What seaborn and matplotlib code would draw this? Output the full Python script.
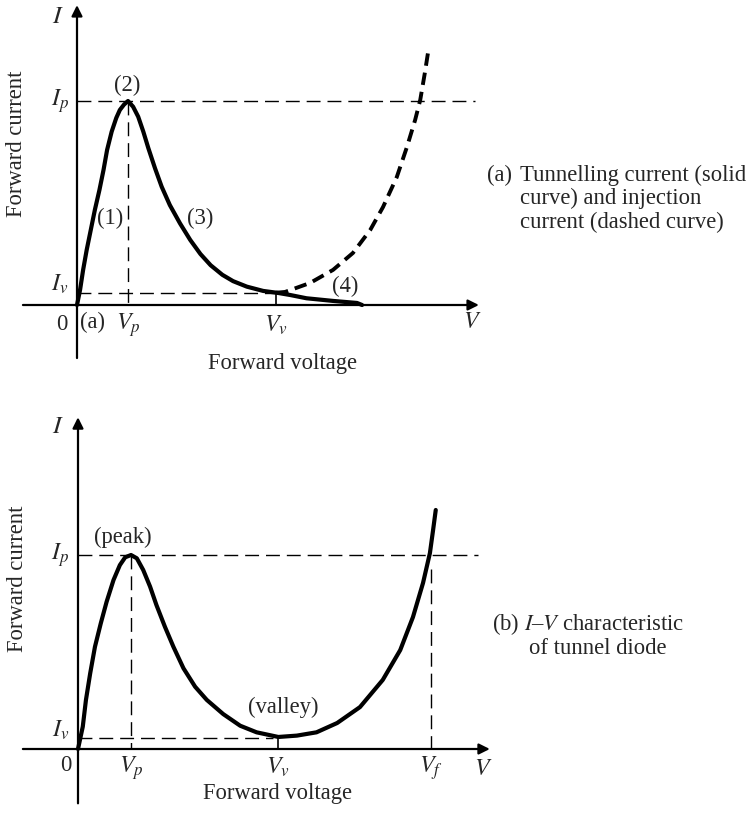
import numpy as np
import pandas as pd
import matplotlib
matplotlib.use('Agg')
import matplotlib.pyplot as plt
import seaborn as sns

# (a) 터널 전류 (실선) : V [V], I [mA]
tun_v = [0.000, 0.006, 0.012, 0.019, 0.027, 0.035, 0.044, 0.052, 0.059, 0.068, 0.077, 0.084,
         0.092, 0.100, 0.110, 0.120, 0.130, 0.140, 0.153, 0.166, 0.182, 0.202, 0.222, 0.242,
         0.262, 0.285, 0.306, 0.333, 0.365, 0.392, 0.418, 0.450, 0.502, 0.549, 0.559]
tun_i = [0.00, 0.74, 1.72, 2.70, 3.68, 4.66, 5.64, 6.62, 7.60, 8.50, 9.17, 9.56,
         9.82, 10.0, 9.72, 9.23, 8.50, 7.68, 6.70, 5.80, 4.90, 4.00, 3.19, 2.50,
         1.95, 1.48, 1.17, 0.90, 0.69, 0.60, 0.49, 0.33, 0.20, 0.10, 0.00]
# (a) 주입 전류 (점선)
inj_v = [0.390, 0.408, 0.457, 0.502, 0.541, 0.575, 0.600, 0.627, 0.647, 0.663, 0.673, 0.682, 0.690]
inj_i = [0.60, 0.64, 1.08, 1.72, 2.55, 3.68, 4.80, 6.27, 7.75, 9.07, 10.05, 11.37, 12.65]
a_vp, a_vv, a_ip, a_iv = 0.100, 0.390, 10.0, 0.60

# (b) 터널 다이오드 I-V 특성
iv_v = [0.000, 0.009, 0.015, 0.023, 0.032, 0.043, 0.054, 0.067, 0.079, 0.089, 0.100,
        0.111, 0.123, 0.136, 0.148, 0.164, 0.180, 0.199, 0.221, 0.243, 0.274, 0.306,
        0.337, 0.378, 0.413, 0.450, 0.489, 0.532, 0.575, 0.608, 0.632, 0.651, 0.664,
        0.670, 0.675]
iv_i = [0.00, 1.15, 2.53, 3.90, 5.27, 6.48, 7.59, 8.71, 9.48, 9.88, 10.0,
        9.83, 9.23, 8.37, 7.42, 6.30, 5.27, 4.16, 3.21, 2.53, 1.80, 1.20,
        0.86, 0.62, 0.69, 0.86, 1.34, 2.16, 3.56, 5.10, 6.80, 8.56, 10.10,
        11.29, 12.32]
b_vp, b_vv, b_vf, b_ip, b_iv = 0.100, 0.378, 0.666, 10.0, 0.56

sns.set_style('white')
plt.rcParams['font.family'] = ['Liberation Serif', 'DejaVu Serif']
plt.rcParams['mathtext.fontset'] = 'stix'

fig = plt.figure(figsize=(7.56, 8.22), dpi=100)
ax1 = fig.add_axes([0, 412 / 822, 1, 410 / 822])
ax2 = fig.add_axes([0, 0, 1, 412 / 822])
ax1.set_xlim(-77 / 510, 679 / 510)
ax1.set_ylim(-105 / 20.4, 305 / 20.4)
ax2.set_xlim(-78 / 530, 678 / 530)
ax2.set_ylim(-73 / 19.4, 339 / 19.4)
for ax in (ax1, ax2):
    ax.axis('off')

FS = 16.3
guide = dict(color='k', lw=1.0, linestyle=(0, (10, 5)))
arrow = dict(arrowstyle='-|>', color='k', lw=1.6, mutation_scale=16, shrinkA=0, shrinkB=0)


def draw_axes(ax, x_left, x_tip, y_bottom, y_tip):
    ax.annotate('', xy=(x_tip, 0), xytext=(x_left, 0), arrowprops=arrow)
    ax.annotate('', xy=(0, y_tip), xytext=(0, y_bottom), arrowprops=arrow)


# ---- (a) ----
draw_axes(ax1, -0.106, 0.788, -2.6, 14.7)
df_tun = pd.DataFrame({'V': tun_v, 'I': tun_i})
df_inj = pd.DataFrame({'V': inj_v, 'I': inj_i})
sns.lineplot(data=df_tun, x='V', y='I', ax=ax1, color='k', lw=3.0, estimator=None, sort=False,
             solid_capstyle='round', solid_joinstyle='round')
sns.lineplot(data=df_inj, x='V', y='I', ax=ax1, color='k', lw=2.8, estimator=None, sort=False,
             linestyle=(0, (3.2, 1.8)))
ax1.plot([0, 0.780], [a_ip, a_ip], **guide)
ax1.plot([0, a_vv], [a_iv, a_iv], **guide)
ax1.plot([a_vp, a_vp], [a_ip, 0], **guide)
ax1.plot([a_vv, a_vv], [a_iv, 0], color='k', lw=1.2)

ax1.text(-0.037, 14.1, '$I$', fontsize=FS + 2, ha='center', va='center')
ax1.text(-0.016, a_ip, '$I_p$', fontsize=FS + 1, ha='right', va='center')
ax1.text(-0.016, 1.0, '$I_v$', fontsize=FS + 1, ha='right', va='center')
ax1.text(-0.029, -0.95, '0', fontsize=FS, ha='center', va='center')
ax1.text(0.031, -0.85, '(a)', fontsize=FS, ha='center', va='center')
ax1.text(a_vp, -1.0, '$V_p$', fontsize=FS + 1, ha='center', va='center')
ax1.text(a_vv, -1.0, '$V_v$', fontsize=FS + 1, ha='center', va='center')
ax1.text(0.775, -0.85, '$V$', fontsize=FS + 1, ha='center', va='center')
ax1.text(0.065, 4.26, '(1)', fontsize=FS, ha='center', va='center')
ax1.text(0.098, 10.75, '(2)', fontsize=FS, ha='center', va='center')
ax1.text(0.241, 4.26, '(3)', fontsize=FS, ha='center', va='center')
ax1.text(0.525, 0.9, '(4)', fontsize=FS, ha='center', va='center')
ax1.text(-0.118, 7.9, 'Forward current', fontsize=FS, rotation=90, ha='center', va='center')
ax1.text(0.402, -2.85, 'Forward voltage', fontsize=FS, ha='center', va='center')
ax1.text(0.804, 6.37, '(a)', fontsize=FS, ha='left', va='center')
ax1.text(0.869, 6.37, 'Tunnelling current (solid', fontsize=FS, ha='left', va='center')
ax1.text(0.869, 5.22, 'curve) and injection', fontsize=FS, ha='left', va='center')
ax1.text(0.869, 4.07, 'current (dashed curve)', fontsize=FS, ha='left', va='center')

# ---- (b) ----
draw_axes(ax2, -0.104, 0.777, -2.8, 17.1)
df_iv = pd.DataFrame({'V': iv_v, 'I': iv_i})
sns.lineplot(data=df_iv, x='V', y='I', ax=ax2, color='k', lw=3.0, estimator=None, sort=False,
             solid_capstyle='round', solid_joinstyle='round')
ax2.plot([0, 0.755], [b_ip, b_ip], **guide)
ax2.plot([0, b_vv - 0.01], [b_iv, b_iv], **guide)
ax2.plot([b_vp, b_vp], [b_ip, 0], **guide)
ax2.plot([b_vf, b_vf], [9.3, 0], **guide)
ax2.plot([b_vv, b_vv], [b_iv, 0], color='k', lw=1.2)

ax2.text(-0.038, 16.6, '$I$', fontsize=FS + 2, ha='center', va='center')
ax2.text(-0.017, b_ip, '$I_p$', fontsize=FS + 1, ha='right', va='center')
ax2.text(-0.017, 0.97, '$I_v$', fontsize=FS + 1, ha='right', va='center')
ax2.text(-0.023, -0.85, '0', fontsize=FS, ha='center', va='center')
ax2.text(b_vp, -0.97, '$V_p$', fontsize=FS + 1, ha='center', va='center')
ax2.text(b_vv, -0.97, '$V_v$', fontsize=FS + 1, ha='center', va='center')
ax2.text(b_vf, -0.97, '$V_f$', fontsize=FS + 1, ha='center', va='center')
ax2.text(0.764, -1.05, '$V$', fontsize=FS + 1, ha='center', va='center')
ax2.text(0.085, 10.9, '(peak)', fontsize=FS, ha='center', va='center')
ax2.text(0.387, 2.15, '(valley)', fontsize=FS, ha='center', va='center')
ax2.text(-0.115, 8.8, 'Forward current', fontsize=FS, rotation=90, ha='center', va='center')
ax2.text(0.377, -2.3, 'Forward voltage', fontsize=FS, ha='center', va='center')
ax2.text(0.781, 6.46, '(b) $I$–$V$ characteristic', fontsize=FS, ha='left', va='center')
ax2.text(0.981, 5.18, 'of tunnel diode', fontsize=FS, ha='center', va='center')

fig.savefig('out.png', dpi=100, facecolor='white')
